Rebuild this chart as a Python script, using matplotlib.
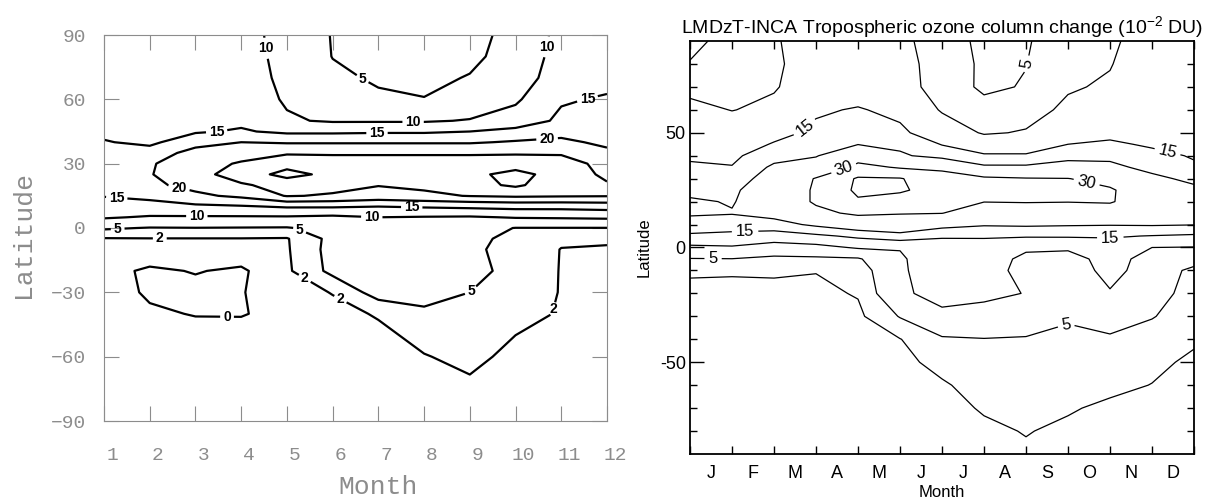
import numpy as np
import matplotlib
matplotlib.use("Agg")
import matplotlib.pyplot as plt
from matplotlib.transforms import ScaledTranslation

plt.rcParams['font.family'] = ['Liberation Sans', 'DejaVu Sans']
plt.rcParams['mathtext.fontset'] = 'custom'
plt.rcParams['mathtext.rm'] = 'Liberation Sans'
plt.rcParams['mathtext.it'] = 'Liberation Sans:italic'

# ---- data -------------------------------------------------------------
lats = [90, 80, 70, 60, 50, 45, 40, 35, 30, 25, 20, 15, 10, 5, 0,
        -5, -10, -20, -30, -40, -50, -60, -70, -80, -90]

# left panel: months 1..12
months_l = list(range(1, 13))
ozone_l = np.array([
    [13, 13, 13, 12, 8, 4.8, 3.5, 3.5, 4, 6, 11.5, 13],
    [13, 13, 13, 12, 8.5, 4.9, 3.5, 3.5, 4.2, 6.5, 12, 13.5],
    [13, 13, 13, 12, 9, 5.8, 4.5, 4.2, 5.2, 7.5, 12.5, 13.5],
    [13, 13, 13, 12.5, 9.5, 8, 5.6, 5.1, 6.5, 9.3, 14.5, 15.5],
    [13.5, 13, 13.5, 14, 10.5, 9.5, 9.5, 9.5, 10.3, 12, 16, 16.5],
    [14, 13.5, 14.5, 15.5, 14, 14, 14.3, 14.3, 15, 16.5, 18.5, 17.5],
    [15.3, 14, 18, 20, 19.5, 19.5, 19.5, 19.5, 19.5, 20.5, 21, 19],
    [17, 17, 22, 23, 24.5, 24.5, 24.5, 24.5, 24.5, 24.5, 24.5, 21],
    [18, 19.5, 23, 25.5, 28, 27, 27, 27, 27, 27.8, 27, 23.5],
    [18.5, 19.7, 23.5, 27, 31.8, 28.5, 28, 28, 28.8, 31.5, 28, 24],
    [17.5, 19, 21.5, 24.5, 26.5, 26.5, 25.2, 26, 28.3, 30.8, 27, 25.5],
    [15.2, 16, 19, 21, 25.3, 24.5, 23, 24, 25.2, 25.8, 25.5, 25.3],
    [13, 13.5, 14, 14.5, 15.5, 15.5, 15, 15.5, 16, 16.5, 16.5, 17],
    [10.5, 9.5, 9.5, 9.5, 9.5, 9, 10, 9.7, 9.5, 10.3, 10.5, 10.8],
    [5.5, 4.8, 4.9, 4.8, 4.7, 6.5, 7, 7, 6.5, 4.9, 4.9, 4.9],
    [1.8, 1.9, 1.9, 1.9, 1.8, 6, 6.8, 6.8, 6.5, 3.5, 2.3, 2.3],
    [1.3, 1.2, 1.1, 1.2, 1.7, 6.2, 6.5, 6.5, 6, 3.2, 1.95, 1.8],
    [0.6, -0.3, 0.1, -0.3, 1.5, 5.9, 6, 6.2, 6.5, 3.5, 1.9, 1.5],
    [1.0, -0.3, -0.5, -0.1, 1.0, 2.1, 6.5, 6.2, 5.0, 3.2, 1.9, 1.3],
    [1.0, 0.3, -0.1, -0.1, 0.5, 1.3, 2.2, 4.4, 3.5, 2.8, 1.8, 1.2],
    [1.0, 0.8, 0.7, 0.6, 0.8, 1.1, 1.5, 2.6, 3.0, 2.0, 1.5, 1.2],
    [1.0, 0.9, 0.8, 0.8, 0.9, 1.0, 1.2, 1.9, 2.5, 1.5, 1.2, 1.0],
    [1.0, 1.0, 0.9, 0.9, 1.0, 1.0, 1.1, 1.2, 1.9, 1.1, 1.0, 1.0],
    [1.0, 1.0, 1.0, 1.0, 1.0, 1.0, 1.0, 1.1, 1.3, 1.0, 1.0, 1.0],
    [1.0, 1.0, 1.0, 1.0, 1.0, 1.0, 1.0, 1.0, 1.1, 1.0, 1.0, 1.0],
])
levels_l = [0, 2, 5, 10, 15, 20, 25, 30]
xticklabels_l = [str(m) for m in months_l]
yticks_l = [90, 60, 30, 0, -30, -60, -90]
yticklabels_l = ['90', '60', '30', '0', '\u221230', '\u221260', '\u221290']
# where the labels sit (month, latitude)
labels_at_l = [(4.6, 84), (10.8, 84), (6.64, 69), (7.76, 48), (3.47, 43),
               (6.97, 44.3), (11.63, 55), (10.69, 41.5), (2.66, 20.5),
               (1.28, 14.5), (3.03, 6), (7.73, 10), (6.86, 7.5), (5.3, 0.2),
               (1.3, -0.9), (2.22, -4.6), (5.46, -21), (6.2, -32),
               (9.07, -30.4), (10.69, -37), (3.69, -43)]

# right panel: month boundaries 0..12
months_r = list(range(0, 13))
ozone_r = np.array([
    [3.5, 7, 9.7, 11.5, 12, 11.5, 7, 4, 4.6, 7.5, 9.3, 12, 12.5],
    [5.3, 8, 9.5, 11.5, 12, 12, 7.6, 4.2, 4.9, 8.5, 9.8, 12.5, 13],
    [9, 8.8, 9.7, 12, 13, 12.5, 7.5, 4.2, 5.3, 9.6, 10.5, 13, 13.3],
    [11, 9.9, 10.8, 14.5, 15.3, 14, 9.6, 6.5, 8.5, 10.8, 12, 13.5, 13.5],
    [12.5, 12, 13.8, 15.8, 17.5, 15.8, 12.5, 9.6, 10.3, 12.5, 14, 14, 14],
    [13.5, 13, 15.3, 17, 19.8, 18.5, 14.8, 12.5, 13, 15, 15.6, 14.5, 14.3],
    [14.5, 14, 18, 19.5, 27.5, 21, 17.5, 15.5, 15.4, 18.5, 18.5, 16, 14.7],
    [15.5, 15.2, 21, 24, 31.5, 29.5, 29, 21, 21, 22, 21.5, 18.2, 15.5],
    [17.5, 17, 23, 30.5, 35.5, 35.3, 32, 31.5, 30.5, 30.2, 27, 21.5, 18.5],
    [18.5, 19, 24, 31, 35.8, 35.6, 33, 32.5, 32, 31, 31, 24, 21.5],
    [20.8, 19.6, 24, 31, 34.5, 33, 32, 30.2, 30.5, 30.2, 30.8, 24, 22],
    [20.5, 20.3, 22, 28, 31.5, 30.5, 30.2, 25, 25, 26, 25, 23, 22],
    [18.5, 17.5, 18, 21, 24, 25, 22, 20.5, 20.8, 20.5, 20.3, 20.5, 20.2],
    [14, 13.5, 12.5, 14, 16, 18, 15.5, 15.8, 15.5, 15.5, 15.5, 14.8, 14.2],
    [9, 9.5, 8, 8.5, 10.5, 10.2, 13, 12, 10.5, 10.8, 12.5, 10, 9.8],
    [4.8, 4.9, 4, 4.2, 4.5, 9.5, 12.5, 11.5, 9.3, 8, 12, 8, 6.5],
    [2.4, 2.3, 2.4, 2.1, 3, 9, 14, 12, 8.5, 6.5, 12, 7, 4.2],
    [1.2, 1.2, 1.2, 1.4, 2.2, 8.5, 13, 11.5, 9.8, 6, 9.5, 6.3, 3.8],
    [1.1, 1.1, 1.1, 1.2, 1.4, 5.2, 8, 7.5, 6.5, 5.4, 6, 5.2, 3.2],
    [1.0, 1.0, 1.0, 1.1, 1.2, 1.9, 4.6, 4.9, 4.8, 4.2, 4.7, 3.5, 2.3],
    [1.0, 1.0, 1.0, 1.0, 1.1, 1.3, 2.8, 3.8, 4, 3.6, 3.6, 2.5, 1.6],
    [1.0, 1.0, 1.0, 1.0, 1.0, 1.1, 1.7, 3.0, 3.3, 3.0, 2.5, 1.95, 1.4],
    [1.0, 1.0, 1.0, 1.0, 1.0, 1.0, 1.3, 2.2, 2.7, 2.2, 1.6, 1.4, 1.2],
    [1.0, 1.0, 1.0, 1.0, 1.0, 1.0, 1.1, 1.6, 2.1, 1.6, 1.3, 1.2, 1.1],
    [1.0, 1.0, 1.0, 1.0, 1.0, 1.0, 1.0, 1.3, 1.7, 1.3, 1.1, 1.1, 1.0],
])
levels_r = [2, 5, 10, 15, 20, 30, 35]
month_letters = ['J', 'F', 'M', 'A', 'M', 'J', 'J', 'A', 'S', 'O', 'N', 'D']
yticks_r = [-50, 0, 50]
yticklabels_r = ['-50', '0', '50']
labels_at_r = [(2.74, 52), (3.64, 35.7), (1.31, 8.4), (0.55, -4), (8.02, 80),
               (11.36, 41), (9.45, 29), (10.0, 6.3), (8.98, -35)]

title_r = 'LMDzT-INCA Tropospheric ozone column change (10$^{-2}$ DU)'

# ---- figure -----------------------------------------------------------
W, H = 1218, 501
fig = plt.figure(figsize=(W / 100, H / 100), dpi=100)
gray = '#8c8c8c'
mono = ['Liberation Mono', 'DejaVu Sans Mono']

# left panel
ax1 = fig.add_axes([104 / W, 80 / H, 503 / W, 386 / H])
cs1 = ax1.contour(months_l, lats, ozone_l, levels=levels_l,
                  colors='black', linewidths=1.6)
ax1.set_xlim(1, 12)
ax1.set_ylim(-90, 90)
txt = ax1.clabel(cs1, fmt='%d', fontsize=10, manual=labels_at_l,
                 inline=True, inline_spacing=3)
for t in txt:
    t.set_fontweight('bold')
    t.set_rotation(0)

ax1.set_xticks(months_l)
ax1.set_xticklabels(xticklabels_l, fontfamily=mono, fontsize=14, color=gray)
ax1.set_yticks(yticks_l)
ax1.set_yticklabels(yticklabels_l, fontfamily=mono, fontsize=14, color=gray)
ax1.tick_params(axis='both', direction='in', length=11, width=0.8,
                color=gray, top=True, right=True)
ax1.tick_params(axis='x', pad=19)
ax1.tick_params(axis='y', pad=13)
for lbl in ax1.get_xticklabels():
    lbl.set_transform(lbl.get_transform()
                      + ScaledTranslation(8 / 100, 0, fig.dpi_scale_trans))
for sp in ax1.spines.values():
    sp.set_color(gray)
    sp.set_linewidth(0.8)
ax1.set_xlabel('Month', fontfamily=mono, fontsize=19, color=gray)
ax1.xaxis.set_label_coords(0.545, -0.171)
ax1.xaxis.label.set_va('center')
ax1.set_ylabel('Latitude', fontfamily=mono, fontsize=19, color=gray)
ax1.yaxis.set_label_coords(-0.161, 0.484)
ax1.yaxis.label.set_va('center')

# right panel
ax2 = fig.add_axes([690 / W, 47 / H, 504 / W, 413 / H])
cs2 = ax2.contour(months_r, lats, ozone_r, levels=levels_r,
                  colors='black', linewidths=0.9)
ax2.set_xlim(0, 12)
ax2.set_ylim(-90, 90)
ax2.clabel(cs2, fmt='%d', fontsize=12, manual=labels_at_r,
           inline=True, inline_spacing=4)

ax2.set_xticks(range(0, 13))
ax2.set_xticklabels([''] * 13)
ax2.set_xticks([m + 0.5 for m in range(12)], minor=True)
ax2.set_xticklabels(month_letters, minor=True, fontsize=13)
ax2.tick_params(axis='x', which='major', direction='in', length=6,
                width=1, top=True)
ax2.tick_params(axis='x', which='minor', length=0, pad=8)
ax2.set_yticks(yticks_r)
ax2.set_yticklabels(yticklabels_r, fontsize=13)
ax2.set_yticks(range(-80, 90, 10), minor=True)
ax2.tick_params(axis='y', which='major', direction='in', length=10,
                width=1, right=True, pad=3)
ax2.tick_params(axis='y', which='minor', direction='in', length=5,
                width=1, right=True)
for sp in ax2.spines.values():
    sp.set_linewidth(1.3)
ax2.set_title(title_r, fontsize=14, pad=6)
ax2.set_xlabel('Month', fontsize=12)
ax2.xaxis.set_label_coords(0.5, -0.094)
ax2.xaxis.label.set_va('center')
ax2.set_ylabel('Latitude', fontsize=12)
ax2.yaxis.set_label_coords(-0.091, 0.5)
ax2.yaxis.label.set_va('center')

fig.savefig('out.png', dpi=100)
